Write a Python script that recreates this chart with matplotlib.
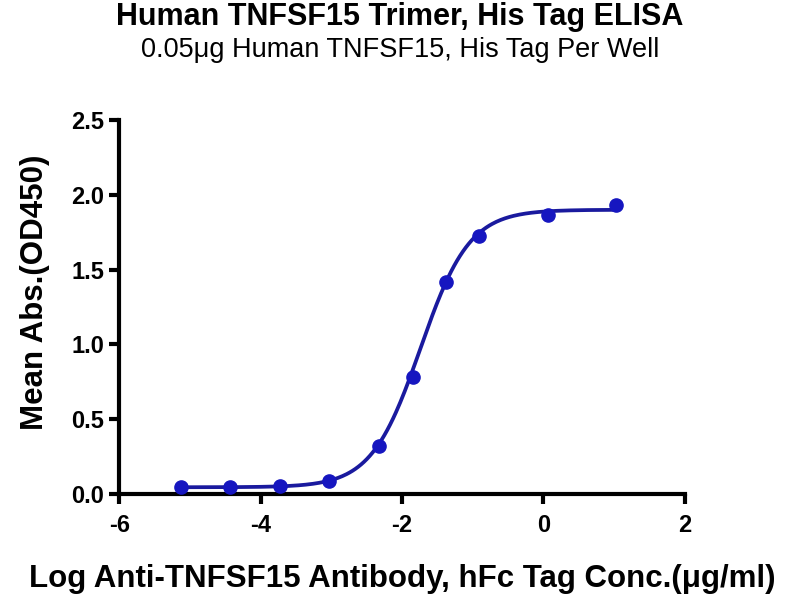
import numpy as np
import matplotlib
matplotlib.use("Agg")
import matplotlib.pyplot as plt

plt.rcParams["font.family"] = ["Liberation Sans", "DejaVu Sans"]

# measured points (log conc, mean OD450)
log_conc = [-5.13, -4.43, -3.73, -3.03, -2.33, -1.85, -1.38, -0.905, 0.06, 1.02]
mean_abs = [0.044, 0.047, 0.051, 0.089, 0.318, 0.78, 1.415, 1.722, 1.862, 1.933]

# 4PL fit parameters
fit_bottom = 0.045
fit_top = 1.90
fit_logec50 = -1.74
fit_hill = 1.25

title = "Human TNFSF15 Trimer, His Tag ELISA"
subtitle = "0.05\u03bcg Human TNFSF15, His Tag Per Well"
xlabel = "Log Anti-TNFSF15 Antibody, hFc Tag Conc.(\u03bcg/ml)"
ylabel = "Mean Abs.(OD450)"
x_ticks = [-6, -4, -2, 0, 2]
y_ticks = [0.0, 0.5, 1.0, 1.5, 2.0, 2.5]

line_color = "#1a1a9e"
dot_color = "#1616c0"


def four_pl(x):
    return fit_bottom + (fit_top - fit_bottom) / (1 + 10 ** ((fit_logec50 - x) * fit_hill))


fig = plt.figure(figsize=(8, 6), dpi=100)
ax = fig.add_axes([0.149, 0.1767, 0.707, 0.6233])

xs = np.linspace(min(log_conc), max(log_conc), 300)
ax.plot(xs, four_pl(xs), color=line_color, lw=2.7, zorder=2)
ax.plot(log_conc, mean_abs, "o", color=dot_color, ms=9.5, zorder=3, clip_on=False)

ax.set_xlim(-6, 2)
ax.set_ylim(0, 2.5)
ax.set_xticks(x_ticks)
ax.set_yticks(y_ticks)
ax.set_xticklabels([str(t) for t in x_ticks])
ax.set_yticklabels([f"{t:.1f}" for t in y_ticks])

for s in ["top", "right"]:
    ax.spines[s].set_visible(False)
for s in ["left", "bottom"]:
    ax.spines[s].set_linewidth(3)
    ax.spines[s].set_capstyle("projecting")
ax.tick_params(width=3, length=7.5, labelsize=17)
ax.tick_params(axis="x", pad=7)
ax.tick_params(axis="y", pad=3.5)
for lab in ax.get_xticklabels() + ax.get_yticklabels():
    lab.set_fontweight("bold")

ax.set_xlabel(xlabel, fontsize=22.5, fontweight="bold", va="baseline")
ax.xaxis.set_label_coords(0.5, -0.249)
ax.set_ylabel(ylabel, fontsize=22.5, fontweight="bold", va="center")
ax.yaxis.set_label_coords(-0.148, 0.54)

fig.text(0.5, 0.958, title, ha="center", va="baseline", fontsize=22, fontweight="bold")
fig.text(0.5, 0.905, subtitle, ha="center", va="baseline", fontsize=19.5)

fig.savefig("out.png", dpi=100)
